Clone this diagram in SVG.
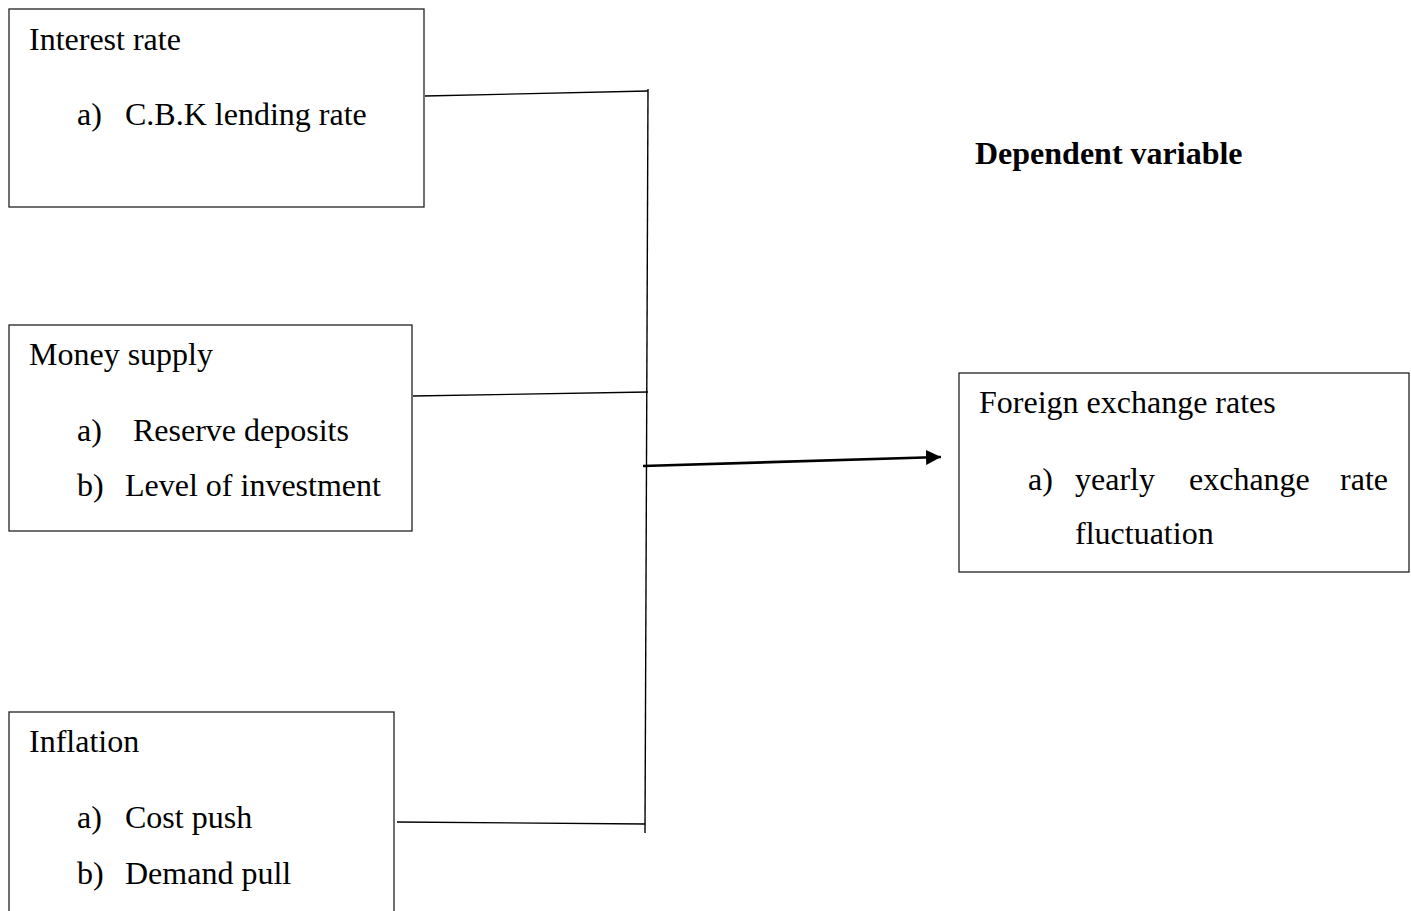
<svg xmlns="http://www.w3.org/2000/svg" width="1411" height="911" viewBox="0 0 1411 911">
<style>
.box{fill:#fff;stroke:#222;stroke-width:1.3}
.t{font-family:"Liberation Serif","Times New Roman",serif;font-size:32px;fill:#000}
.b{font-weight:bold}
.c{stroke:#000;stroke-width:1.4;fill:none}
.a{stroke:#000;stroke-width:2.6;fill:none}
</style>
<defs>
<marker id="ah" markerWidth="16" markerHeight="16" refX="15" refY="7.5" orient="auto" markerUnits="userSpaceOnUse">
<path d="M0,0 L15,7.5 L0,15 Z" fill="#000"/>
</marker>
</defs>
<rect width="1411" height="911" fill="#fff"/>
<g id="interest-rate">
<rect class="box" x="9" y="9" width="415" height="198"/>
<text class="t" x="29" y="50">Interest rate</text>
<text class="t" x="77" y="125">a)</text>
<text class="t" x="125" y="125">C.B.K lending rate</text>
</g>
<g id="money-supply">
<rect class="box" x="9" y="325" width="403" height="206"/>
<text class="t" x="29" y="365">Money supply</text>
<text class="t" x="77" y="441">a)</text>
<text class="t" x="133" y="441">Reserve deposits</text>
<text class="t" x="77" y="496">b)</text>
<text class="t" x="125" y="496">Level of investment</text>
</g>
<g id="inflation">
<rect class="box" x="9" y="712" width="385" height="210"/>
<text class="t" x="29" y="752">Inflation</text>
<text class="t" x="77" y="828">a)</text>
<text class="t" x="125" y="828">Cost push</text>
<text class="t" x="77" y="884">b)</text>
<text class="t" x="125" y="884">Demand pull</text>
</g>
<g id="dependent-label">
<text class="t b" x="975" y="164">Dependent variable</text>
</g>
<g id="foreign-exchange">
<rect class="box" x="959" y="373" width="450" height="199"/>
<text class="t" x="979" y="413">Foreign exchange rates</text>
<text class="t" x="1028" y="490">a)</text>
<text class="t" x="1075" y="490">yearly</text>
<text class="t" x="1189" y="490">exchange</text>
<text class="t" x="1388" y="490" text-anchor="end">rate</text>
<text class="t" x="1075" y="544">fluctuation</text>
</g>
<g id="connectors">
<line class="c" x1="648" y1="89" x2="645" y2="833"/>
<line class="c" x1="425" y1="96" x2="648" y2="91"/>
<line class="c" x1="413" y1="396" x2="648" y2="392"/>
<line class="c" x1="397" y1="822" x2="645" y2="824"/>
<line class="a" x1="643" y1="466" x2="941" y2="457" marker-end="url(#ah)"/>
</g>
</svg>
